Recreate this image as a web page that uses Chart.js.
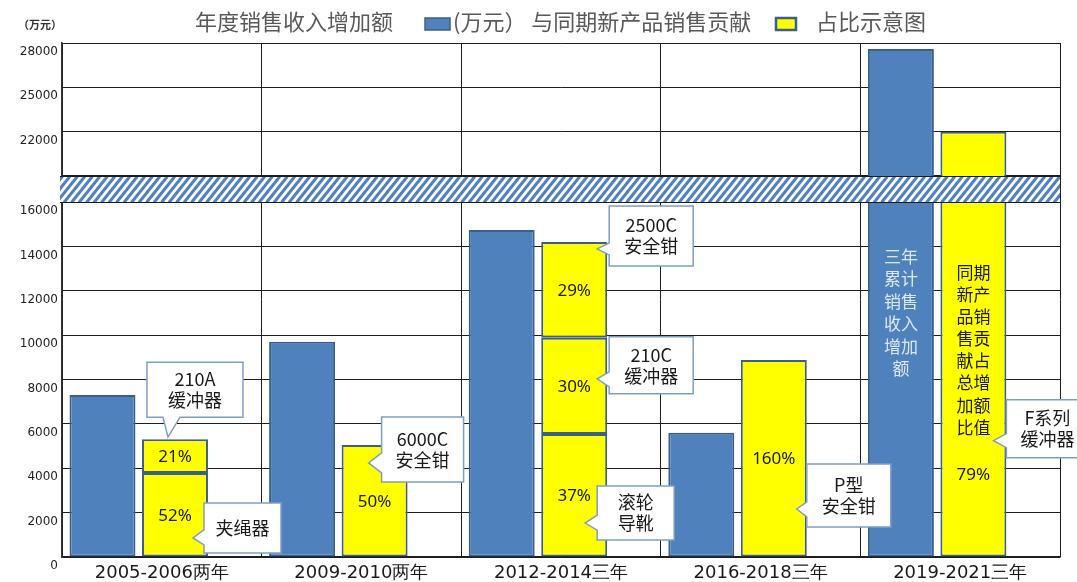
<!DOCTYPE html>
<html>
<head>
<meta charset="utf-8">
<title>年度销售收入增加额与同期新产品销售贡献占比示意图</title>
<script src="https://cdn.jsdelivr.net/npm/chart.js@4.4.1/dist/chart.umd.min.js"></script>
<style>
  html, body { margin: 0; padding: 0; background: #fff; }
  #wrap { width: 1077px; height: 582px; }
</style>
</head>
<body>
<div id="wrap"><canvas id="chart" width="1077" height="582"></canvas></div>
<script>
/* ---------- data ---------- */
const CATEGORIES = ["2005-2006两年", "2009-2010两年", "2012-2014三年", "2016-2018三年", "2019-2021三年"];

// 年度销售收入增加额 (万元)
const SALES_INCREASE = [7300, 9700, 14740, 5600, 27600];

// 同期新产品销售贡献, stacked pieces (bottom / middle / top)
const NEW_BASE = [3790, 5050, 5540, 8880, 22000];
const NEW_MID  = [1520, null, 4340, null, null];
const NEW_TOP  = [null, null, 4320, null, null];

const BASE_PCT = ["52%", "50%", "37%", "160%", "79%"];
const MID_PCT  = ["21%", "", "30%", "", ""];
const TOP_PCT  = ["", "", "29%", "", ""];

const Y_TICKS       = [0, 2000, 4000, 6000, 8000, 10000, 12000, 14000, 16000, 19000, 22000, 25000, 28000];
const Y_TICK_LABELS = ["0", "2000", "4000", "6000", "8000", "10000", "12000", "14000", "16000", "", "22000", "25000", "28000"];
const Y_BREAK = [16000, 19000];

const CALLOUT_TEXT = [
    ["210A", "缓冲器"],
    ["夹绳器"],
    ["6000C", "安全钳"],
    ["2500C", "安全钳"],
    ["210C", "缓冲器"],
    ["滚轮", "导靴"],
    ["P型", "安全钳"],
    ["F系列", "缓冲器"]
];

const BLUE_NOTE   = ["三年", "累计", "销售", "收入", "增加", "额"];
const YELLOW_NOTE = ["同期", "新产", "品销", "售贡", "献占", "总增", "加额", "比值"];
const NOTE_INDEX = 4;

const LEGEND_TEXT = ["年度销售收入增加额", "(万元） 与同期新产品销售贡献", "占比示意图"];
const UNIT_TEXT = "（万元）";

/* ---------- look ---------- */
const BLUE = "#4f81bd";
const BLUE_EDGE = "#3b5f8d";
const YELLOW = "#ffff00";
const GRID = "#1e1e1e";
const CJK = '"Noto Sans CJK SC", "Noto Sans", sans-serif';

/* callout placement, relative to the anchored segment's right edge / top */
const CALLOUT_LAYOUT = [
    { ds: 2, i: 0, box: [-61, -77, 96, 55], side: "bottom", tip: [-40, -2], base: [-45, -28] },
    { ds: 1, i: 0, box: [-4, 30, 77, 50],   side: "left",   tip: [-15, 65], base: [57, 72] },
    { ds: 1, i: 1, box: [-26, -28, 82, 65], side: "left",   tip: [-39, 18], base: [8, 28] },
    { ds: 3, i: 2, box: [2, -36, 84, 60],   side: "left",   tip: [-10, 7],  base: [1, 13] },
    { ds: 2, i: 2, box: [2, -1, 84, 57],    side: "left",   tip: [-10, 41], base: [34, 49] },
    { ds: 1, i: 2, box: [-10, 52, 77, 54],  side: "left",   tip: [-22, 89], base: [81, 96] },
    { ds: 1, i: 3, box: [0, 104, 84, 63],   side: "left",   tip: [-10, 149], base: [142, 157] },
    { ds: 1, i: 4, box: [0, 268, 82, 58],   side: "left",   tip: [-13, 309], base: [302, 316] }
];

/* ============================================================
   broken value axis: 0-16000 below the band, 19000-28000 above
============================================================ */
const LOW_FR = 355 / 514;
const HIGH_FR = 381 / 514;
const Y_MAX = 28000;

function brokenDecimal(v) {
    if (v <= Y_BREAK[0]) return v / Y_BREAK[0] * LOW_FR;
    if (v >= Y_BREAK[1]) return HIGH_FR + (v - Y_BREAK[1]) / (Y_MAX - Y_BREAK[1]) * (1 - HIGH_FR);
    return LOW_FR + (v - Y_BREAK[0]) / (Y_BREAK[1] - Y_BREAK[0]) * (HIGH_FR - LOW_FR);
}

function brokenValue(d) {
    if (d <= LOW_FR) return d / LOW_FR * Y_BREAK[0];
    if (d >= HIGH_FR) return Y_BREAK[1] + (d - HIGH_FR) / (1 - HIGH_FR) * (Y_MAX - Y_BREAK[1]);
    return Y_BREAK[0] + (d - LOW_FR) / (HIGH_FR - LOW_FR) * (Y_BREAK[1] - Y_BREAK[0]);
}

class BrokenLinearScale extends Chart.LinearScale {
    getPixelForValue(value) {
        return this.getPixelForDecimal(brokenDecimal(value));
    }
    getValueForPixel(pixel) {
        return brokenValue(this.getDecimalForPixel(pixel));
    }
}
BrokenLinearScale.id = "brokenLinear";
BrokenLinearScale.defaults = Chart.LinearScale.defaults;
Chart.register(BrokenLinearScale);

const toPoints = (arr) => arr.map((v, i) => ({ x: i, y: v }));

/* ============================================================
   plugins
============================================================ */
const whiteBg = {
    id: "whiteBg",
    beforeDraw(chart) {
        const ctx = chart.ctx;
        ctx.save();
        ctx.fillStyle = "#fff";
        ctx.fillRect(0, 0, chart.width, chart.height);
        ctx.restore();
    }
};

// text inside the yellow segments + the vertical notes
const barTexts = {
    id: "barTexts",
    afterDatasetsDraw(chart) {
        const ctx = chart.ctx;
        ctx.save();
        ctx.textAlign = "center";
        ctx.textBaseline = "middle";

        const pctSets = [[1, BASE_PCT], [2, MID_PCT], [3, TOP_PCT]];
        ctx.font = '17px "Noto Sans", sans-serif';
        ctx.fillStyle = "#1a1a1a";
        for (const [ds, labels] of pctSets) {
            const meta = chart.getDatasetMeta(ds);
            meta.data.forEach((el, i) => {
                if (!labels[i] || i === NOTE_INDEX) return;
                const p = el.getProps(["x", "y", "base"], true);
                ctx.fillText(labels[i], p.x, (p.y + p.base) / 2 + 1);
            });
        }

        // vertical notes in the last group
        const blue = chart.getDatasetMeta(0).data[NOTE_INDEX].getProps(["x", "base"], true);
        ctx.font = "17px " + CJK;
        ctx.fillStyle = "#dde7f3";
        BLUE_NOTE.forEach((t, k) => ctx.fillText(t, blue.x, blue.base - 300 + k * 22.4));

        const yel = chart.getDatasetMeta(1).data[NOTE_INDEX].getProps(["x", "base"], true);
        ctx.fillStyle = "#1a1a1a";
        YELLOW_NOTE.forEach((t, k) => ctx.fillText(t, yel.x, yel.base - 284 + k * 22.1));
        ctx.font = '17px "Noto Sans", sans-serif';
        ctx.fillText(BASE_PCT[NOTE_INDEX], yel.x, yel.base - 81);

        ctx.restore();
    }
};

// hatched band over the axis break
const breakBand = {
    id: "breakBand",
    afterDatasetsDraw(chart) {
        const { ctx, chartArea, scales: { y } } = chart;
        const top = Math.round(y.getPixelForValue(Y_BREAK[1])) + 0.5;
        const bot = Math.round(y.getPixelForValue(Y_BREAK[0])) + 0.5;
        const left = chartArea.left - 2;
        const right = chartArea.right;
        const h = bot - top;

        ctx.save();
        ctx.beginPath();
        ctx.rect(left, top, right - left, h);
        ctx.clip();
        ctx.fillStyle = "#fff";
        ctx.fillRect(left, top, right - left, h);
        ctx.strokeStyle = BLUE;
        ctx.lineWidth = 3;
        for (let x = left - h; x < right + h; x += 7.5) {
            ctx.beginPath();
            ctx.moveTo(x, bot);
            ctx.lineTo(x + h * 0.8, top);
            ctx.stroke();
        }
        ctx.restore();

        ctx.save();
        ctx.strokeStyle = GRID;
        ctx.lineWidth = 1;
        ctx.beginPath();
        ctx.moveTo(left, top); ctx.lineTo(right, top);
        ctx.moveTo(left, bot); ctx.lineTo(right, bot);
        ctx.stroke();
        ctx.restore();
    }
};

// speech-bubble product names
const callouts = {
    id: "callouts",
    afterDraw(chart) {
        const ctx = chart.ctx;
        ctx.save();
        CALLOUT_LAYOUT.forEach((c, n) => {
            const el = chart.getDatasetMeta(c.ds).data[c.i];
            const p = el.getProps(["x", "y", "width"], true);
            const ax = p.x + p.width / 2;
            const ay = p.y;
            const bx = ax + c.box[0], by = ay + c.box[1], w = c.box[2], h = c.box[3];
            const tx = ax + c.tip[0], ty = ay + c.tip[1];

            ctx.beginPath();
            ctx.moveTo(bx, by);
            ctx.lineTo(bx + w, by);
            ctx.lineTo(bx + w, by + h);
            if (c.side === "bottom") {
                ctx.lineTo(ax + c.base[1], by + h);
                ctx.lineTo(tx, ty);
                ctx.lineTo(ax + c.base[0], by + h);
                ctx.lineTo(bx, by + h);
            } else {
                ctx.lineTo(bx, by + h);
                ctx.lineTo(bx, ay + c.base[1]);
                ctx.lineTo(tx, ty);
                ctx.lineTo(bx, ay + c.base[0]);
            }
            ctx.closePath();
            ctx.fillStyle = "#fff";
            ctx.fill();
            ctx.strokeStyle = "#7f9ec5";
            ctx.lineWidth = 1.5;
            ctx.stroke();

            const lines = CALLOUT_TEXT[n];
            ctx.fillStyle = "#1a1a1a";
            ctx.font = "18px " + CJK;
            ctx.textAlign = "center";
            ctx.textBaseline = "middle";
            const cy = by + h / 2;
            lines.forEach((t, k) => {
                ctx.fillText(t, bx + w / 2, cy + (k - (lines.length - 1) / 2) * 21);
            });
        });
        ctx.restore();
    }
};

// title line with the two inline legend keys
const headerLegend = {
    id: "headerLegend",
    afterDraw(chart) {
        const ctx = chart.ctx;
        ctx.save();
        ctx.textBaseline = "middle";
        ctx.textAlign = "left";
        ctx.fillStyle = "#595959";
        ctx.font = "22px " + CJK;
        ctx.fillText(LEGEND_TEXT[0], 195, 22);

        ctx.fillStyle = BLUE;
        ctx.fillRect(425, 18, 25, 12);
        ctx.strokeStyle = BLUE_EDGE;
        ctx.lineWidth = 1.5;
        ctx.strokeRect(425, 18, 25, 12);

        ctx.fillStyle = "#595959";
        ctx.fillText(LEGEND_TEXT[1], 453, 22);

        ctx.fillStyle = YELLOW;
        ctx.fillRect(776, 18, 20, 12);
        ctx.strokeStyle = BLUE_EDGE;
        ctx.lineWidth = 2.5;
        ctx.strokeRect(776, 18, 20, 12);

        ctx.fillStyle = "#595959";
        ctx.fillText(LEGEND_TEXT[2], 816, 22);

        ctx.fillStyle = "#333";
        ctx.font = "bold 11px " + CJK;
        ctx.fillText(UNIT_TEXT, 18, 25);
        ctx.restore();
    }
};

/* ============================================================
   chart
============================================================ */
const yellowSet = (label, data) => ({
    label,
    data: toPoints(data),
    stack: "share",
    backgroundColor: YELLOW,
    borderColor: BLUE_EDGE,
    borderWidth: 2,
    borderSkipped: false,
    xAxisID: "xb"
});

new Chart(document.getElementById("chart"), {
    type: "bar",
    data: {
        labels: CATEGORIES,
        datasets: [
            {
                label: "年度销售收入增加额",
                data: toPoints(SALES_INCREASE),
                stack: "sales",
                backgroundColor: BLUE,
                borderColor: BLUE_EDGE,
                borderWidth: 2,
                borderSkipped: false,
                xAxisID: "xb"
            },
            yellowSet("新产品贡献 1", NEW_BASE),
            yellowSet("新产品贡献 2", NEW_MID),
            yellowSet("新产品贡献 3", NEW_TOP)
        ]
    },
    options: {
        responsive: false,
        animation: false,
        devicePixelRatio: 1,
        events: [],
        categoryPercentage: 0.7265,
        barPercentage: 0.91,
        layout: { padding: { top: 43, right: 17, bottom: 0, left: 0 } },
        plugins: {
            legend: { display: false },
            tooltip: { enabled: false },
            title: { display: false }
        },
        scales: {
            x: {
                type: "category",
                offset: true,
                grid: { offset: true, color: GRID, lineWidth: 1, drawTicks: false },
                border: { color: GRID, width: 1.5 },
                ticks: {
                    color: "#1a1a1a",
                    padding: 6,
                    maxRotation: 0,
                    autoSkip: false,
                    font: { family: '"DejaVu Sans", sans-serif', size: 18 }
                },
                afterFit: (s) => { s.height = 25; }
            },
            xb: {
                type: "linear",
                display: false,
                offset: false,
                min: -0.3845,
                max: 4.6155,
                grid: { display: false },
                afterBuildTicks: (s) => { s.ticks = CATEGORIES.map((c, i) => ({ value: i })); }
            },
            y: {
                type: "brokenLinear",
                min: 0,
                max: Y_MAX,
                stacked: true,
                afterBuildTicks: (s) => { s.ticks = Y_TICKS.map(v => ({ value: v })); },
                grid: { color: GRID, lineWidth: 1, drawTicks: false },
                border: { color: "#333", width: 1.5 },
                ticks: {
                    autoSkip: false,
                    padding: 4,
                    labelOffset: 9,
                    color: "#1f1f1f",
                    font: { family: '"DejaVu Sans", sans-serif', size: 12 },
                    callback: (v, i) => Y_TICK_LABELS[i]
                },
                afterFit: (s) => { s.width = 62; }
            }
        }
    },
    plugins: [whiteBg, barTexts, breakBand, callouts, headerLegend]
});
</script>
</body>
</html>
